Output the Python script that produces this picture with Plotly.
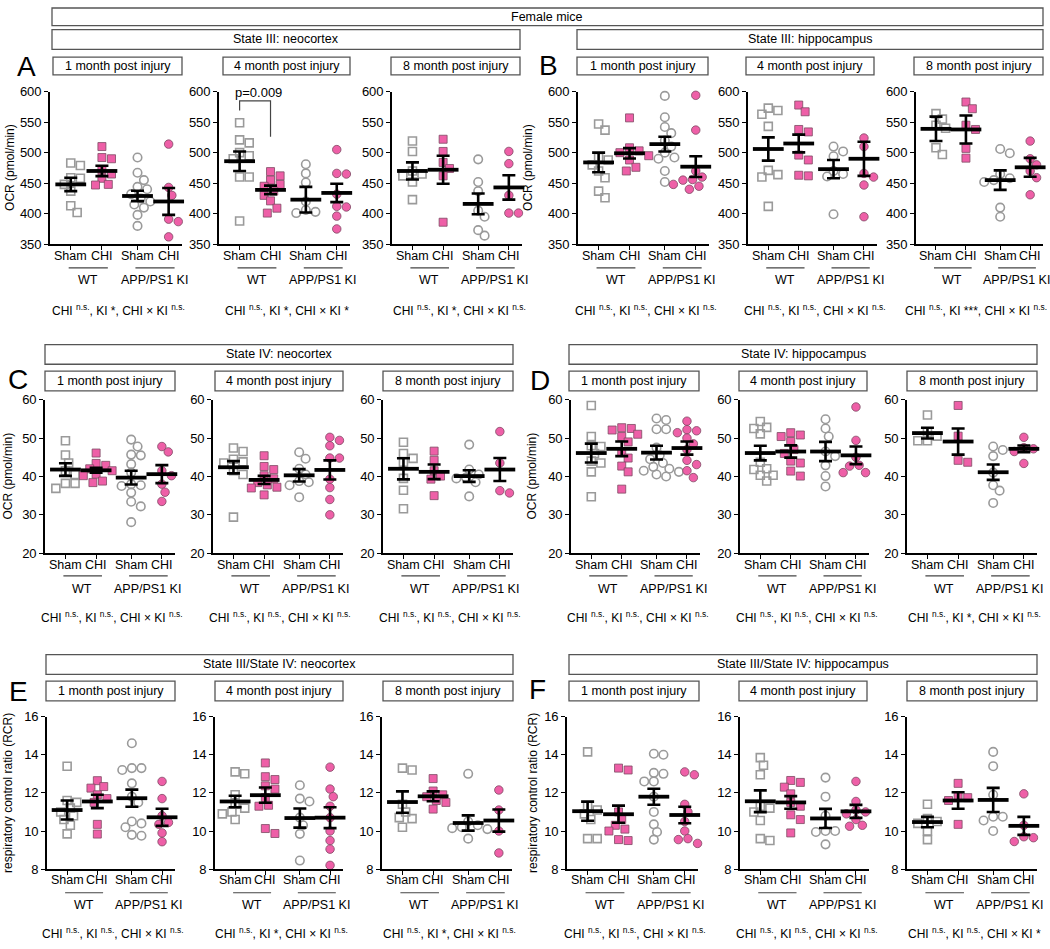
import plotly.graph_objects as go

W, H = 1050, 949

# ---------------- text / categories ----------------
CATS = ["Sham", "CHI", "Sham", "CHI"]
GENOTYPES = ["WT", "APP/PS1 KI"]
TIMES = ["1 month post injury", "4 month post injury", "8 month post injury"]
HEADERS = [["State III: neocortex", "State III: hippocampus"],
           ["State IV: neocortex", "State IV: hippocampus"],
           ["State III/State IV: neocortex", "State III/State IV: hippocampus"]]
LETTERS = [["A", "B"], ["C", "D"], ["E", "F"]]
YTITLES = ["OCR (pmol/min)", "OCR (pmol/min)", "respiratory control ratio (RCR)"]
YRANGES = [(350, 600, 50), (20, 60, 10), (8, 16, 2)]
TOP_TITLE = "Female mice"

# ---------------- data: [WT Sham, WT CHI, KI Sham, KI CHI] ----------------
A1_pts = [[483, 479, 459, 458, 448, 437, 413, 402],
          [510, 492, 490, 472, 465, 458, 448, 447],
          [492, 467, 455, 444, 440, 432, 425, 420, 415, 410, 398, 380],
          [514, 443, 430, 391, 387, 362]]
A1_mean = [448, 470, 429, 420]
A1_sem = [11, 8.5, 8.5, 22]

A2_pts = [[549, 521, 516, 500, 495, 490, 460, 460, 388],
          [469, 462, 455, 448, 445, 437, 430, 421, 409, 401],
          [481, 466, 451, 420, 406, 403, 401],
          [505, 466, 465, 432, 412, 411, 396, 375]]
A2_mean = [486, 439, 423, 434]
A2_sem = [16, 7, 21, 15]

A3_pts = [[519, 502, 470, 465, 462, 452, 423],
          [522, 502, 484, 474, 462, 386],
          [489, 452, 437, 405, 395, 373, 364],
          [502, 482, 430, 401, 401]]
A3_mean = [470, 472, 416, 443]
A3_sem = [14, 23, 17, 20]

B1_pts = [[547, 537, 492, 488, 480, 470, 459, 437, 426],
          [557, 508, 503, 500, 495, 488, 476, 470],
          [593, 558, 542, 532, 520, 510, 500, 492, 490, 470, 452],
          [594, 537, 470, 460, 456, 455, 452, 448, 445, 440]]
B1_mean = [484, 499, 514, 477]
B1_sem = [16, 8.5, 12, 17]

B2_pts = [[573, 569, 563, 543, 471, 464, 460, 412],
          [578, 567, 538, 534, 496, 488, 462, 463],
          [510, 502, 494, 470, 465, 461, 399],
          [524, 510, 466, 460, 447, 395]]
B2_mean = [506, 515, 473, 490]
B2_sem = [19, 14.5, 15, 28]

B3_pts = [[564, 555, 545, 540, 508, 497],
          [583, 572, 545, 538, 507, 491],
          [506, 499, 465, 458, 455, 452, 410, 395],
          [519, 490, 480, 470, 459, 431]]
B3_mean = [539, 538, 455, 476]
B3_sem = [20, 23, 16, 15.5]

C1_pts = [[49.3, 45.6, 43.5, 41.5, 40.5, 38.2, 38.2, 36.9],
          [46.1, 43.4, 42.9, 42.0, 41.5, 40.6, 40.2, 38.8, 38.4],
          [49.6, 47.8, 45.7, 45.5, 43.2, 41.0, 38.0, 37.7, 37.5, 35.8, 33.4, 32.2, 28.1],
          [47.8, 46.4, 41.5, 40.2, 38.0, 35.9, 33.5]]
C1_mean = [41.8, 41.6, 39.7, 40.6]
C1_sem = [1.65, 0.65, 1.8, 2.35]

C2_pts = [[47.4, 46.5, 44.5, 43.8, 43.5, 41.5, 40.5, 29.4],
          [45.4, 42.6, 41.8, 40.2, 39.4, 38.4, 37.8, 37.2, 37.0, 35.2],
          [46.3, 44.6, 42.0, 40.5, 38.8, 38.5, 37.7, 34.6],
          [50.2, 49.4, 48.0, 44.8, 44.8, 39.3, 37.1, 34.0, 30.0]]
C2_mean = [42.4, 39.1, 40.3, 41.7]
C2_sem = [1.6, 1.05, 1.6, 2.5]

C3_pts = [[48.9, 46.0, 44.7, 43.7, 39.5, 36.4, 31.6],
          [46.6, 44.2, 41.5, 40.1, 39.3, 35.0],
          [48.3, 41.8, 40.5, 39.7, 39.5, 38.5, 34.8],
          [51.7, 43.5, 36.3, 35.7]]
C3_mean = [42.0, 41.2, 40.1, 41.8]
C3_sem = [2.75, 1.9, 1.5, 3.0]

D1_pts = [[58.5, 50.4, 48.0, 47.8, 46.0, 44.0, 43.5, 41.2, 34.7],
          [52.7, 52.5, 52.1, 51.0, 50.4, 49.0, 46.5, 44.8, 42.7, 41.2, 36.7],
          [55.1, 54.7, 52.3, 52.3, 47.5, 45.5, 44.5, 43.5, 42.5, 42.0, 41.5, 41.2, 40.5, 40.0],
          [54.4, 52.2, 51.9, 51.4, 50.0, 48.5, 47.0, 44.2, 43.1, 41.5, 39.7]]
D1_mean = [46.1, 47.2, 46.2, 47.4]
D1_sem = [2.45, 1.9, 1.8, 1.7]

D2_pts = [[54.3, 52.8, 52.5, 51.1, 43.7, 42.0, 41.8, 40.3, 40.3, 38.8],
          [51.4, 50.8, 50.4, 49.1, 47.0, 46.0, 44.0, 43.5, 41.4, 40.1],
          [54.9, 52.5, 50.4, 46.5, 45.3, 42.9, 40.1, 37.4],
          [58.1, 49.4, 45.0, 42.9, 42.7, 41.0, 41.0]]
D2_mean = [46.1, 46.5, 46.5, 45.5]
D2_sem = [1.9, 1.6, 2.5, 2.3]

D3_pts = [[56.0, 51.5, 50.5, 49.3, 49.3],
          [58.5, 50.5, 44.2, 43.7],
          [47.8, 46.9, 45.3, 41.0, 37.7, 36.3, 33.1],
          [50.2, 47.5, 47.2, 46.5, 43.4]]
D3_mean = [51.3, 49.1, 41.1, 47.2]
D3_sem = [1.4, 3.4, 2.0, 0.85]

E1_pts = [[13.4, 11.6, 11.5, 11.2, 11.0, 10.8, 10.6, 10.3, 9.85],
          [12.64, 12.33, 12.25, 11.9, 11.7, 11.5, 10.35, 9.84],
          [14.6, 13.3, 13.3, 13.2, 12.5, 11.8, 11.5, 10.5, 10.4, 10.2, 9.8, 9.75],
          [12.6, 11.7, 10.8, 10.45, 10.35, 9.9, 9.44]]
E1_mean = [11.1, 11.55, 11.72, 10.72]
E1_sem = [0.5, 0.35, 0.45, 0.45]

E2_pts = [[13.1, 13.0, 11.9, 11.4, 11.2, 11.0, 10.9, 10.6],
          [13.57, 12.85, 12.7, 12.37, 12.2, 11.75, 11.35, 11.3, 10.13, 9.87],
          [12.4, 11.7, 11.55, 10.7, 10.3, 9.85, 8.45],
          [13.35, 12.2, 11.8, 11.3, 10.7, 10.0, 9.5, 9.05, 8.2]]
E2_mean = [11.55, 11.88, 10.68, 10.7]
E2_sem = [0.3, 0.4, 0.5, 0.55]

E3_pts = [[13.3, 13.2, 11.4, 11.0, 10.7, 10.65, 10.2],
          [12.75, 12.1, 11.9, 11.8, 11.6, 11.5, 11.15],
          [13.0, 10.5, 10.3, 10.2, 10.15, 10.1, 9.6],
          [12.15, 11.1, 10.0, 8.85]]
E3_mean = [11.52, 11.82, 10.42, 10.55]
E3_sem = [0.56, 0.26, 0.4, 0.58]

F1_pts = [[14.15, 11.3, 11.1, 10.9, 10.6, 9.6, 9.6],
          [13.3, 13.2, 11.0, 10.6, 10.3, 10.1, 10.0, 9.5, 9.55],
          [14.05, 14.0, 13.05, 13.0, 12.6, 12.6, 11.8, 11.0, 10.35, 9.95, 9.55],
          [13.1, 12.95, 11.4, 11.0, 10.5, 10.0, 9.6, 9.55, 9.35]]
F1_mean = [11.04, 10.88, 11.8, 10.84]
F1_sem = [0.5, 0.45, 0.42, 0.43]

F2_pts = [[13.85, 13.45, 12.95, 11.3, 11.2, 11.0, 10.55, 9.6, 9.5],
          [12.65, 12.55, 12.3, 11.95, 11.5, 11.3, 10.85, 10.6, 9.9],
          [12.8, 11.8, 10.8, 10.0, 10.0, 9.95, 9.3],
          [12.6, 11.55, 11.1, 11.0, 10.9, 10.6, 10.3, 10.25]]
F2_mean = [11.56, 11.5, 10.66, 11.03]
F2_sem = [0.57, 0.33, 0.5, 0.34]

F3_pts = [[11.4, 10.65, 10.5, 10.4, 10.0, 9.55],
          [12.5, 11.85, 11.75, 11.6, 10.35],
          [14.15, 13.4, 11.9, 10.75, 10.75, 10.55, 10.0],
          [11.95, 10.3, 9.7, 9.65, 9.45]]
F3_mean = [10.47, 11.6, 11.63, 10.27]
F3_sem = [0.27, 0.43, 0.63, 0.47]

# two-way ANOVA result labels (CHI, KI, CHI x KI)
STATS = [
    [("n.s.", "*", "n.s."), ("n.s.", "*", "*"), ("n.s.", "*", "n.s."),
     ("n.s.", "n.s.", "n.s."), ("n.s.", "n.s.", "n.s."), ("n.s.", "***", "n.s.")],
    [("n.s.", "n.s.", "n.s."), ("n.s.", "n.s.", "n.s."), ("n.s.", "n.s.", "n.s."),
     ("n.s.", "n.s.", "n.s."), ("n.s.", "n.s.", "n.s."), ("n.s.", "*", "n.s.")],
    [("n.s.", "n.s.", "n.s."), ("n.s.", "*", "n.s."), ("n.s.", "*", "n.s."),
     ("n.s.", "n.s.", "n.s."), ("n.s.", "n.s.", "n.s."), ("n.s.", "n.s.", "*")],
]
P_TEXT = "p=0.009"
P_BRACKET = (585, 569, 526)   # bracket top, left foot, right foot (pmol/min)

ROWS = [
    [(A1_pts, A1_mean, A1_sem), (A2_pts, A2_mean, A2_sem), (A3_pts, A3_mean, A3_sem),
     (B1_pts, B1_mean, B1_sem), (B2_pts, B2_mean, B2_sem), (B3_pts, B3_mean, B3_sem)],
    [(C1_pts, C1_mean, C1_sem), (C2_pts, C2_mean, C2_sem), (C3_pts, C3_mean, C3_sem),
     (D1_pts, D1_mean, D1_sem), (D2_pts, D2_mean, D2_sem), (D3_pts, D3_mean, D3_sem)],
    [(E1_pts, E1_mean, E1_sem), (E2_pts, E2_mean, E2_sem), (E3_pts, E3_mean, E3_sem),
     (F1_pts, F1_mean, F1_sem), (F2_pts, F2_mean, F2_sem), (F3_pts, F3_mean, F3_sem)],
]

# ---------------- geometry (pixels) ----------------
CAT_X = [1.0, 2.05, 3.25, 4.3]
XR = (0.3, 4.75)
ROW_Y = [(86, 241), (399, 555), (721, 876)]
PANEL_X = [
    [(50, 182), (219, 350), (392, 522), (578, 709), (748, 877), (916, 1043)],
    [(45, 175), (213, 343), (383, 513), (571, 700), (740, 869), (907, 1037)],
    [(47, 175), (215, 343), (382, 512), (567, 698), (740, 869), (907, 1037)],
]
SUB_X = [
    [(53, 182), (223, 350), (391, 520), (577, 708), (746, 874), (914, 1043)],
    [(45, 175), (215, 343), (383, 513), (569, 699), (739, 867), (907, 1037)],
    [(46, 175), (215, 343), (383, 513), (569, 699), (739, 867), (907, 1037)],
]
SUB_Y = [(51, 69), (370, 390), (685, 705)]
HEAD_X = [[(52, 520), (577, 1043)], [(45, 513), (569, 1037)], [(46, 513), (569, 1037)]]
HEAD_Y = [(23, 43), (343, 363), (658, 678)]
CATLAB_Y = [253, 567, 887]
UNDER_Y = [265, 578, 900]
GROUP_Y = [277, 591, 912]
STAT_Y = [308, 620, 941]
LETTER_POS = [[(26, 60), (548, 59)], [(18, 378), (540, 380)], [(18, 695), (537, 693)]]
YTITLE_X = [[10, 528], [8, 532], [8, 533]]

FONT = "Arial, Liberation Sans, Helvetica, sans-serif"
GRAY = "#9a9a9a"
PINK = "#EE5FA7"
PINK_EDGE = "#7d4a63"
BOX = "#555555"
TICK_FS = 12.5


def fx(px):
    return px / W


def fy(py):
    return 1 - py / H


def swarm(values, xppu, yppu, diam=8.3, step=3.2):
    placed = []
    res = [0.0] * len(values)
    order = sorted(range(len(values)), key=lambda i: -values[i])
    cands = [0.0]
    for j in range(1, 30):
        cands += [j * step, -j * step]
    for i in order:
        y = values[i] * yppu
        for c in cands:
            if all((c - px) ** 2 + (y - py) ** 2 >= diam ** 2 for px, py in placed):
                break
        placed.append((c, y))
        res[i] = c / xppu
    return res


fig = go.Figure()
layout = dict(width=W, height=H, margin=dict(l=0, r=0, t=0, b=0),
              paper_bgcolor="white", plot_bgcolor="white", showlegend=False,
              font=dict(family=FONT, size=12.5, color="black"))
shapes = []
annotations = []


def txt_ann(text, x, y, xref="paper", yref="paper", size=12.5, angle=0):
    return dict(text=text, xref=xref, yref=yref, x=x, y=y, showarrow=False,
                xanchor="center", yanchor="middle", textangle=angle,
                font=dict(size=size, family=FONT, color="black"))


n = 0
for r in range(3):
    y0, y1 = ROW_Y[r]
    ylo, yhi, dt = YRANGES[r]
    yppu = (y1 - y0) / (yhi - ylo)
    for p in range(6):
        n += 1
        sfx = "" if n == 1 else str(n)
        xa, ya = "x" + sfx, "y" + sfx
        x0, x1 = PANEL_X[r][p]
        xppu = (x1 - x0) / (XR[1] - XR[0])
        pts, mean, sem = ROWS[r][p]

        layout["xaxis" + sfx] = dict(
            domain=[fx(x0), fx(x1)], anchor=ya, range=list(XR),
            tickvals=CAT_X, showticklabels=False, showline=True,
            linecolor="black", linewidth=1.6, ticks="outside", ticklen=4,
            tickwidth=1.4, tickcolor="black", showgrid=False, zeroline=False,
            fixedrange=True)
        layout["yaxis" + sfx] = dict(
            domain=[fy(y1), fy(y0)], anchor=xa, range=[ylo, yhi],
            tickmode="linear", tick0=ylo, dtick=dt, showline=True,
            linecolor="black", linewidth=1.6, ticks="outside", ticklen=4,
            tickwidth=1.4, tickcolor="black", showgrid=False, zeroline=False,
            tickfont=dict(size=TICK_FS + 0.5, family=FONT, color="black"),
            fixedrange=True)

        # category labels
        for g in range(4):
            annotations.append(txt_ann(CATS[g], CAT_X[g], fy(CATLAB_Y[r]),
                                       xref=xa, size=TICK_FS))

        for g in range(4):
            vals = pts[g]
            offs = swarm(vals, xppu, yppu)
            xs = [CAT_X[g] + o for o in offs]
            sham = g % 2 == 0
            sym = ("square" if g < 2 else "circle")
            if sham:
                marker = dict(symbol=sym + "-open", size=8 if g < 2 else 8.5,
                              color=GRAY, line=dict(width=1.6, color=GRAY))
            else:
                marker = dict(symbol=sym, size=8 if g < 2 else 8.5, color=PINK,
                              line=dict(width=0.8, color=PINK_EDGE))
            fig.add_trace(go.Scatter(x=xs, y=vals, mode="markers", marker=marker,
                                     xaxis=xa, yaxis=ya, cliponaxis=False,
                                     hoverinfo="skip"))
        fig.add_trace(go.Scatter(
            x=CAT_X, y=mean, mode="markers", xaxis=xa, yaxis=ya, cliponaxis=False,
            marker=dict(symbol="line-ew", size=22, color="black",
                        line=dict(width=3.8, color="black")),
            error_y=dict(type="data", array=sem, visible=True, thickness=2.6,
                         width=6.5, color="black"),
            hoverinfo="skip"))

        # genotype underline + label
        for k, gname in enumerate(GENOTYPES):
            a, b = CAT_X[2 * k], CAT_X[2 * k + 1]
            shapes.append(dict(type="line", xref=xa, yref="paper",
                               x0=a - 0.07, x1=b + 0.2, y0=fy(UNDER_Y[r]),
                               y1=fy(UNDER_Y[r]), line=dict(color="#444444", width=1.2)))
            annotations.append(txt_ann(gname, (a + b) / 2 + 0.05, fy(GROUP_Y[r]),
                                       xref=xa, size=TICK_FS))

        # stats line
        s1, s2, s3 = STATS[r][p]

        def fmt(s):
            return "<sup>" + s + "</sup>" if s == "n.s." else s
        txt = "CHI " + fmt(s1) + ", KI " + fmt(s2) + ", CHI × KI " + fmt(s3)
        cx = min((x0 + x1) / 2 + 2, W - 74)
        annotations.append(txt_ann(txt, fx(cx), fy(STAT_Y[r]), size=12))

        # subtitle box
        sx0, sx1 = SUB_X[r][p]
        sy0, sy1 = SUB_Y[r]
        shapes.append(dict(type="rect", xref="paper", yref="paper",
                           x0=fx(sx0), x1=fx(sx1), y0=fy(sy1), y1=fy(sy0),
                           line=dict(color=BOX, width=1.3), fillcolor="rgba(0,0,0,0)"))
        annotations.append(txt_ann(TIMES[p % 3], fx((sx0 + sx1) / 2),
                                   fy((sy0 + sy1) / 2), size=12.5))

        # p-value bracket (neocortex State III, 4 months)
        if r == 0 and p == 1:
            top, lf, rf = P_BRACKET
            shapes.append(dict(type="path", xref=xa, yref=ya,
                               path=f"M {CAT_X[0]} {lf} L {CAT_X[0]} {top} L {CAT_X[1]} {top} L {CAT_X[1]} {rf}",
                               line=dict(color="#444444", width=1.2)))
            annotations.append(txt_ann(P_TEXT, (CAT_X[0] + CAT_X[1]) / 2 + 0.1, 598,
                                       xref=xa, yref=ya, size=13))

    # headers, letters, y titles
    for h in range(2):
        hx0, hx1 = HEAD_X[r][h]
        hy0, hy1 = HEAD_Y[r]
        shapes.append(dict(type="rect", xref="paper", yref="paper",
                           x0=fx(hx0), x1=fx(hx1), y0=fy(hy1), y1=fy(hy0),
                           line=dict(color=BOX, width=1.3), fillcolor="rgba(0,0,0,0)"))
        annotations.append(txt_ann(HEADERS[r][h], fx((hx0 + hx1) / 2),
                                   fy((hy0 + hy1) / 2), size=12.5))
        lx, ly = LETTER_POS[r][h]
        annotations.append(txt_ann(LETTERS[r][h], fx(lx), fy(ly), size=28))
        annotations.append(txt_ann(YTITLES[r], fx(YTITLE_X[r][h]),
                                   fy((ROW_Y[r][0] + ROW_Y[r][1]) / 2),
                                   size=12, angle=-90))

# top title box
shapes.append(dict(type="rect", xref="paper", yref="paper",
                   x0=fx(52), x1=fx(1043), y0=fy(19), y1=fy(1),
                   line=dict(color=BOX, width=1.3), fillcolor="rgba(0,0,0,0)"))
annotations.append(txt_ann(TOP_TITLE, fx(547), fy(10), size=12.5))

layout["shapes"] = shapes
layout["annotations"] = annotations
fig.update_layout(**layout)
fig.write_html("out.html")
